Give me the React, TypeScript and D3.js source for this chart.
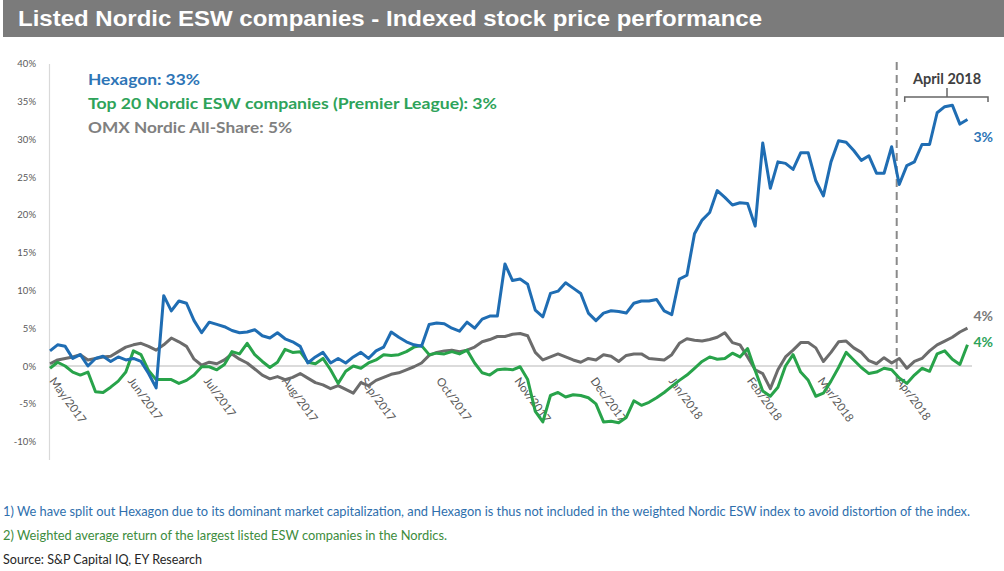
import React from 'react';
import * as d3 from 'd3';

// ---- Data (indexed performance, %, sampled every 3 calendar days from 1 May 2017) ----
const START = new Date(2017, 4, 1);
const END = new Date(2018, 3, 30);
const STEP_DAYS = 3;

const hexagon = [
  2.0, 2.8, 2.6, 1.0, 1.5, 0.0, 1.0, 1.3, 0.6, 1.2,
  0.8, 1.0, 0.6, -1.0, -2.9, 9.3, 7.3, 8.6, 8.3, 6.0,
  4.4, 5.8, 5.5, 5.2, 4.7, 4.4, 4.5, 4.8, 4.0, 3.7,
  4.4, 3.6, 3.2, 2.6, 0.4, 1.2, 1.8, 0.4, 1.0, 0.4,
  1.2, 1.8, 1.0, 2.0, 2.5, 4.5, 3.8, 3.2, 2.8, 2.6,
  5.5, 5.7, 5.6, 5.0, 4.6, 5.8, 5.0, 6.2, 6.6, 6.6,
  13.5, 11.3, 11.5, 10.8, 7.4, 6.5, 9.6, 9.9, 11.0, 10.3,
  9.6, 7.0, 6.0, 7.0, 7.3, 7.2, 7.0, 8.3, 8.6, 8.6,
  8.8, 7.3, 6.8, 11.5, 12.0, 17.5, 19.3, 20.3, 23.2, 22.3,
  21.3, 21.6, 21.5, 18.5, 29.5, 23.5, 27.0, 26.8, 26.0, 28.2,
  28.2, 24.5, 22.5, 27.0, 29.8, 29.6, 28.5, 27.2, 27.8, 25.5,
  25.5, 29.0, 24.0, 26.5, 27.0, 29.3, 29.3, 33.5, 34.3, 34.5,
  32.0, 32.6,
];

const top20 = [
  -0.3, 0.5, 0.0, -0.8, -1.2, -0.8, -3.4, -3.5, -2.8, -2.0,
  -0.8, 2.0, 1.5, -0.6, -1.8, -1.8, -1.8, -2.3, -1.9, -1.2,
  -0.1, -0.1, -0.5, 0.2, 1.9, 1.6, 3.0, 1.5, 0.6, -0.2,
  0.5, 2.2, 1.8, 1.9, 0.5, 0.3, 1.0, -0.5, -2.3, -0.7,
  0.0, -0.3, 0.4, 0.8, 1.5, 1.4, 1.5, 1.9, 2.5, 2.7,
  1.5, 1.7, 1.6, 1.9, 1.6, 2.1, 0.4, -0.9, -1.2, -0.5,
  -0.4, -0.5, -0.1, -1.8, -6.0, -7.4, -3.9, -3.5, -4.1, -3.8,
  -3.9, -4.2, -5.0, -7.4, -7.3, -7.5, -6.8, -4.6, -5.2, -4.8,
  -4.2, -3.5, -2.7, -1.9, -1.2, -0.3, 0.6, 1.2, 0.9, 1.0,
  1.7, 1.2, 2.3, -0.6, -3.3, -4.0, -2.8, 0.0, 1.5, -0.8,
  -1.9, -4.0, -3.6, -2.0, -0.2, 1.8, 0.8, -0.2, -1.0, -0.8,
  -0.3, -0.5, -1.6, -2.3, -1.2, -0.3, -0.7, 1.6, 2.0, 0.9,
  0.2, 2.8,
];

const omx = [
  0.3, 0.8, 1.0, 1.2, 1.5, 0.8, 1.0, 1.2, 1.3, 1.9,
  2.5, 2.8, 3.0, 2.6, 2.1, 2.8, 3.7, 3.2, 2.6, 0.9,
  0.1, 0.5, 0.3, 0.8, 1.6, 0.9, 0.4, -0.4, -1.2, -1.7,
  -1.4, -1.8, -1.5, -1.0, -1.6, -2.2, -2.5, -3.0, -2.6, -3.1,
  -3.6, -2.2, -2.6, -1.9, -1.5, -1.1, -0.9, -0.5, -0.1, 0.4,
  1.4, 1.8, 2.0, 2.1, 1.9, 2.1, 2.5, 3.2, 3.5, 3.9,
  3.9, 4.2, 4.3, 4.0, 1.8, 0.8, 1.2, 1.6, 1.2, 0.8,
  0.5, 1.0, 0.8, 1.5, 1.3, 0.6, 1.4, 1.6, 1.6, 1.0,
  0.9, 0.8, 1.5, 3.0, 3.6, 3.4, 3.3, 3.5, 3.8, 4.4,
  3.1, 2.8, 1.2, -0.5, -1.0, -3.0, -0.5, 1.2, 2.1, 3.1,
  3.1, 2.4, 0.6, 1.8, 3.2, 3.3, 2.4, 1.8, 0.7, 0.3,
  1.1, 0.4, 1.0, -0.3, 0.6, 1.0, 2.0, 2.8, 3.3, 3.8,
  4.5, 5.0,
];

const yTicks = [40, 35, 30, 25, 20, 15, 10, 5, 0, -5, -10];
const monthLabels = [
  'May/2017', 'Jun/2017', 'Jul/2017', 'Aug/2017', 'Sep/2017', 'Oct/2017',
  'Nov/2017', 'Dec/2017', 'Jan/2018', 'Feb/2018', 'Mar/2018', 'Apr/2018',
];
const monthDates = [
  new Date(2017, 4, 1), new Date(2017, 5, 1), new Date(2017, 6, 1), new Date(2017, 7, 1),
  new Date(2017, 8, 1), new Date(2017, 9, 1), new Date(2017, 10, 1), new Date(2017, 11, 1),
  new Date(2018, 0, 1), new Date(2018, 1, 1), new Date(2018, 2, 1), new Date(2018, 3, 1),
];
const markerDate = new Date(2018, 3, 1);

const legendItems = [
  { text: 'Hexagon: 33%', color: '#2e75b6', len: 112 },
  { text: 'Top 20 Nordic ESW companies (Premier League): 3%', color: '#2ea35a', len: 409 },
  { text: 'OMX Nordic All-Share: 5%', color: '#808080', len: 204 },
];
const endLabels = [
  { text: '3%', color: '#2e75b6', series: 'hex' },
  { text: '4%', color: '#7a7a7a', series: 'omx' },
  { text: '4%', color: '#2ea35a', series: 'top' },
];

const TITLE = 'Listed Nordic ESW companies - Indexed stock price performance';
const NOTE1 = '1) We have split out Hexagon due to its dominant market capitalization, and Hexagon is thus not included in the weighted Nordic ESW index to avoid distortion of the index.';
const NOTE2 = '2) Weighted average return of the largest listed ESW companies in the Nordics.';
const SOURCE = 'Source: S&P Capital IQ, EY Research';

const BLUE = '#1f6db3';
const GREEN = '#28a34a';
const GREY = '#6c6c6c';

export default function App() {
  const W = 1004;
  const H = 571;
  const x = d3.scaleTime().domain([START, END]).range([50, 970]);
  const y = d3.scaleLinear().domain([-10, 40]).range([441.6, 63.6]);
  const dates = hexagon.map((_, i) => d3.timeDay.offset(START, i * STEP_DAYS));

  const mk = (vals: number[]) =>
    d3.line<number>()
      .x((_, i) => x(dates[i]))
      .y((d) => y(d))(vals) as string;

  const lastX = x(dates[dates.length - 1]);
  const endY: Record<string, number> = {
    hex: y(hexagon[hexagon.length - 1]) + 22,
    omx: y(omx[omx.length - 1]) - 7,
    top: y(top20[top20.length - 1]) + 2,
  };
  const mx = x(markerDate);
  const cal = 'Lato, "Open Sans", sans-serif';

  return (
    <svg
      width={W}
      height={H}
      style={{ position: 'absolute', left: 0, top: 0, background: '#fff' }}
    >
      <rect x={0} y={0} width={W} height={H} fill="#fff" />
      {/* Title bar */}
      <rect x={3} y={0} width={W - 3} height={37} fill="#7b7b7b" />
      <text
        x={18}
        y={26}
        fill="#fff"
        fontFamily='"Liberation Sans", Arial, sans-serif'
        fontWeight="bold"
        fontSize={22}
        textLength={744}
        lengthAdjust="spacingAndGlyphs"
      >
        {TITLE}
      </text>

      {/* Y axis line */}
      <line x1={49.5} x2={49.5} y1={64} y2={460} stroke="#d9d9d9" strokeWidth={1.2} />
      {/* Zero line */}
      <line x1={50} x2={972} y1={y(0)} y2={y(0)} stroke="#cfcfcf" strokeWidth={1.5} />

      {/* Y ticks */}
      {yTicks.map((t) => (
        <text
          key={t}
          x={36}
          y={y(t) + 3.5}
          textAnchor="end"
          fontSize={9.5}
          fontFamily={cal}
          fill="#595959"
        >
          {t}%
        </text>
      ))}

      {/* X tick labels */}
      {monthDates.map((d, i) => (
        <text
          key={monthLabels[i]}
          transform={`translate(${x(d) - 1},${381}) rotate(54)`}
          fontSize={11.5}
          fontFamily={cal}
          fill="#595959"
        >
          {monthLabels[i]}
        </text>
      ))}

      {/* April marker */}
      <line
        x1={mx}
        x2={mx}
        y1={62}
        y2={385}
        stroke="#8a8a8a"
        strokeWidth={2}
        strokeDasharray="8,5"
      />

      {/* Series lines */}
      <path d={mk(omx)} fill="none" stroke={GREY} strokeWidth={3} strokeLinejoin="round" />
      <path d={mk(top20)} fill="none" stroke={GREEN} strokeWidth={3} strokeLinejoin="round" />
      <path d={mk(hexagon)} fill="none" stroke={BLUE} strokeWidth={3} strokeLinejoin="round" />

      {/* April 2018 bracket */}
      <text
        x={947}
        y={84}
        textAnchor="middle"
        fontSize={14.5}
        fontWeight="bold"
        fontFamily={cal}
        fill="#404040"
      >
        April 2018
      </text>
      <path
        d={`M${mx + 8},102 L${mx + 8},97 L${x(END) + 18},97 L${x(END) + 18},102 M947,97 L947,88`}
        fill="none"
        stroke="#666"
        strokeWidth={1.5}
      />

      {/* Legend */}
      {legendItems.map((l, i) => (
        <text
          key={l.text}
          x={88}
          y={85 + i * 24}
          fill={l.color}
          fontSize={15}
          fontWeight="bold"
          fontFamily={cal}
          textLength={l.len}
          lengthAdjust="spacingAndGlyphs"
        >
          {l.text}
        </text>
      ))}

      {/* End labels */}
      {endLabels.map((e) => (
        <text
          key={e.series}
          x={lastX + 6}
          y={endY[e.series]}
          fill={e.color}
          fontSize={14}
          fontWeight="bold"
          fontFamily={cal}
        >
          {e.text}
        </text>
      ))}

      {/* Footnotes */}
      <text x={3} y={516} fill="#2f6fad" fontSize={12.5} fontFamily={cal} textLength={967} lengthAdjust="spacingAndGlyphs">
        {NOTE1}
      </text>
      <text x={3} y={540} fill="#3d8c3d" fontSize={12.5} fontFamily={cal} textLength={444} lengthAdjust="spacingAndGlyphs">
        {NOTE2}
      </text>
      <text x={3} y={564} fill="#262626" fontSize={12.5} fontFamily={cal} textLength={199} lengthAdjust="spacingAndGlyphs">
        {SOURCE}
      </text>
    </svg>
  );
}
